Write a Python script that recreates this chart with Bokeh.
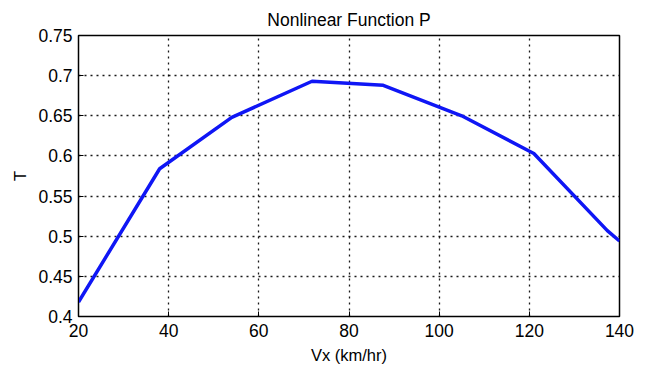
from bokeh.plotting import figure
from bokeh.embed import file_html
from bokeh.resources import INLINE
from bokeh.models import FixedTicker, Range1d

vx = [20, 38, 54, 71.8, 87.6, 105, 121, 137.3, 140]
t = [0.418, 0.584, 0.648, 0.693, 0.688, 0.650, 0.603, 0.507, 0.494]
x_ticks = [20, 40, 60, 80, 100, 120, 140]
y_ticks = [0.4, 0.45, 0.5, 0.55, 0.6, 0.65, 0.7, 0.75]
y_labels = ["0.4", "0.45", "0.5", "0.55", "0.6", "0.65", "0.7", "0.75"]

FONT = "Liberation Sans"

p = figure(width=646, height=369, output_backend="svg", toolbar_location=None,
           x_range=Range1d(20, 140), y_range=Range1d(0.4, 0.75),
           min_border_left=78, min_border_right=27, min_border_top=35, min_border_bottom=53,
           title="Nonlinear Function P")
p.title.align = "center"
p.title.text_font = FONT
p.title.text_font_size = "17.5px"
p.title.text_font_style = "normal"
p.title.text_color = "black"
p.title.standoff = 12

p.line(vx, t, line_color="#0f16f5", line_width=3.5)

p.outline_line_color = "black"
p.outline_line_width = 1.5
p.outline_line_alpha = 1

for ax in (p.xaxis[0], p.yaxis[0]):
    ax.major_label_text_font = FONT
    ax.major_label_text_font_size = "17.5px"
    ax.major_label_text_color = "black"
    ax.axis_label_text_font = FONT
    ax.axis_label_text_font_size = "16.5px"
    ax.axis_label_text_font_style = "normal"
    ax.axis_label_text_color = "black"
    ax.major_tick_in = 5
    ax.major_tick_out = 0
    ax.minor_tick_in = 0
    ax.minor_tick_out = 0
    ax.axis_line_color = "black"
    ax.major_tick_line_color = "black"

p.xaxis.ticker = FixedTicker(ticks=x_ticks)
p.yaxis.ticker = FixedTicker(ticks=y_ticks)
p.yaxis.major_label_overrides = {v: s for v, s in zip(y_ticks, y_labels)}
p.xaxis.axis_label = "Vx (km/hr)"
p.yaxis.axis_label = "T"
p.xaxis.major_label_standoff = 7
p.yaxis.major_label_standoff = 6
p.xaxis.axis_label_standoff = 6
p.yaxis.axis_label_standoff = 6

p.grid.grid_line_color = "black"
p.grid.grid_line_dash = "2 4"
p.grid.grid_line_width = 1.3
p.grid.grid_line_alpha = 0.9

open("out.html", "w").write(file_html(p, INLINE))
